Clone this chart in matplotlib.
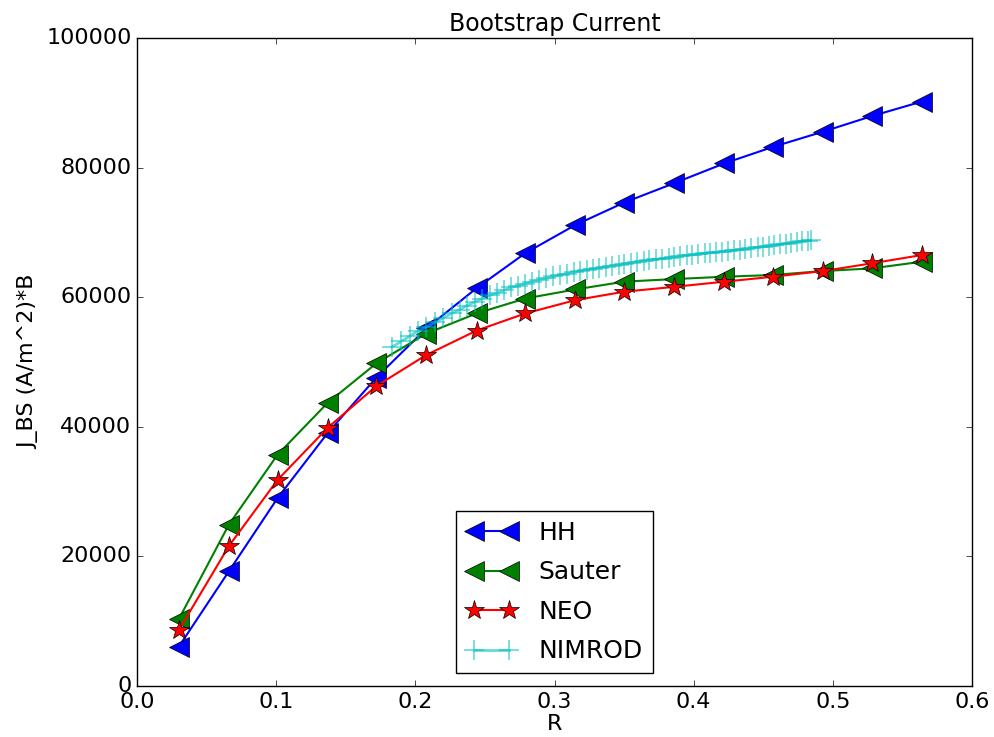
import numpy as np
import matplotlib
matplotlib.use('Agg')
import matplotlib.pyplot as plt

plt.style.use('classic')

# Minor radius grid shared by the three neoclassical models
r_model = [0.030, 0.066, 0.101, 0.137, 0.172, 0.208, 0.244, 0.279,
           0.315, 0.350, 0.386, 0.422, 0.457, 0.493, 0.528, 0.564]

j_hh = [6050, 17700, 29000, 39050, 47600, 55200, 61400, 66800,
        71150, 74600, 77600, 80650, 83200, 85550, 87950, 90200]
j_sauter = [10300, 24900, 35700, 43700, 49800, 54400, 57500, 59800,
            61200, 62400, 62800, 63160, 63430, 64040, 64450, 65480]
j_neo = [8600, 21600, 31800, 39850, 46300, 51100, 54850, 57500,
         59550, 60850, 61600, 62400, 63160, 64040, 65230, 66510]

# NIMROD profile on its own (finer) radial grid
r_nimrod = [0.183, 0.190, 0.196, 0.202, 0.208, 0.214, 0.220, 0.226, 0.232,
            0.237, 0.243, 0.248, 0.254, 0.259, 0.264, 0.269, 0.274, 0.279,
            0.284, 0.289, 0.294, 0.299, 0.304, 0.309, 0.314, 0.318, 0.323,
            0.328, 0.332, 0.337, 0.341, 0.346, 0.350, 0.355, 0.359, 0.364,
            0.368, 0.373, 0.377, 0.382, 0.386, 0.390, 0.395, 0.399, 0.403,
            0.408, 0.412, 0.416, 0.420, 0.425, 0.429, 0.433, 0.437, 0.441,
            0.446, 0.450, 0.454, 0.458, 0.462, 0.466, 0.470, 0.474, 0.478,
            0.482, 0.484]
j_nimrod = [52300, 53200, 54000, 54800, 55400, 56100, 56800, 57500, 58100,
            58700, 59300, 59800, 60300, 60700, 61100, 61500, 61800, 62100,
            62400, 62700, 62950, 63200, 63450, 63650, 63850, 64050, 64250,
            64400, 64550, 64700, 64850, 65000, 65150, 65300, 65450, 65600,
            65700, 65850, 65950, 66100, 66200, 66300, 66450, 66550, 66650,
            66750, 66850, 66950, 67050, 67150, 67250, 67350, 67450, 67550,
            67700, 67800, 67900, 68000, 68150, 68250, 68400, 68500, 68650,
            68750, 68800]

font_size = 16

fig = plt.figure(figsize=(9.95, 7.37), dpi=100, facecolor='white')
ax = fig.add_axes([0.1377, 0.0692, 0.8392, 0.8792])

ax.plot(r_model, j_hh, '<-', color='b', mfc='b', mec='k', ms=15, lw=1.5,
        label='HH')
ax.plot(r_model, j_sauter, '<-', color='g', mfc='g', mec='k', ms=15, lw=1.5,
        label='Sauter')
ax.plot(r_model, j_neo, '*-', color='r', mfc='r', mec='k', ms=15, lw=1.5,
        label='NEO')
ax.plot(r_nimrod, j_nimrod, '+-', color='c', alpha=0.6, ms=15, mew=1.2,
        lw=2, label='NIMROD')

ax.set_xlim(0, 0.6)
ax.set_ylim(0, 100000)
ax.set_xticks(np.arange(0, 0.61, 0.1))
ax.set_yticks(np.arange(0, 100001, 20000))
ax.tick_params(labelsize=font_size)
ax.xaxis.set_major_formatter(matplotlib.ticker.FormatStrFormatter('%.1f'))

ax.set_title('Bootstrap Current', fontsize=17)
ax.set_xlabel('R', fontsize=font_size, labelpad=2)
ax.set_ylabel('J_BS (A/m^2)*B', fontsize=font_size)

ax.legend(loc='lower center', numpoints=2, fontsize=18, fancybox=False,
          labelspacing=0.62, handletextpad=0.9)

fig.savefig('out.png', dpi=100, facecolor='white')
